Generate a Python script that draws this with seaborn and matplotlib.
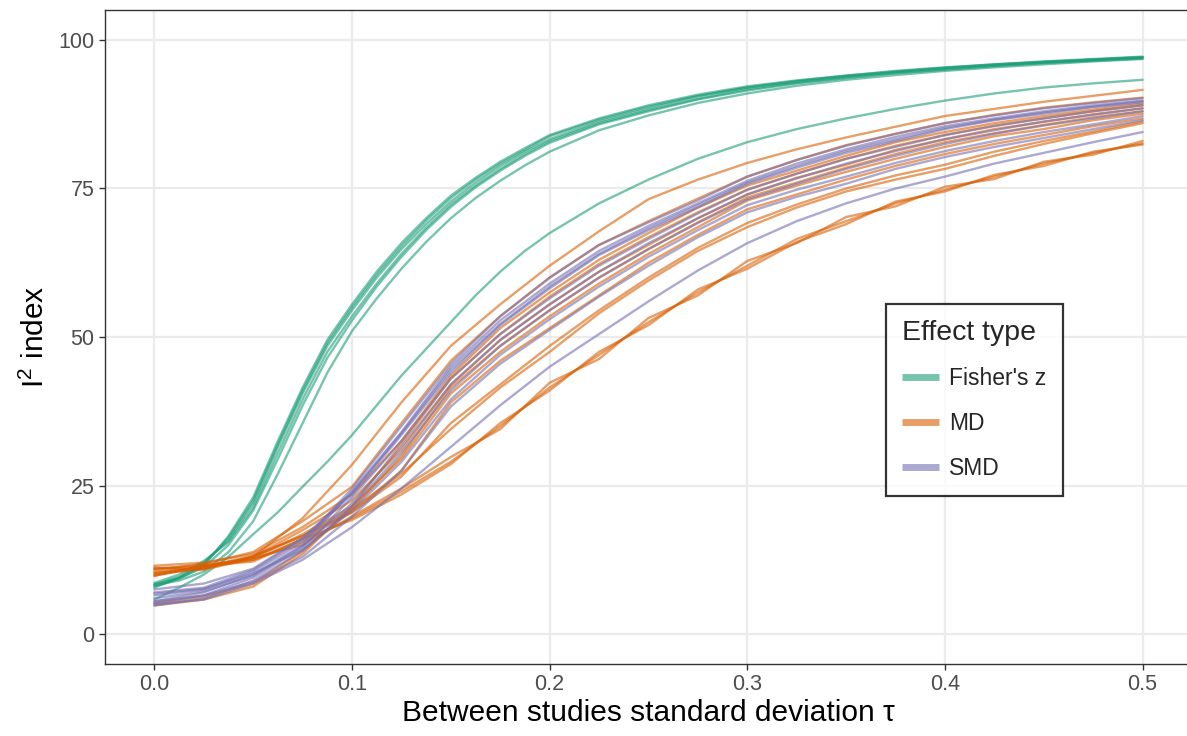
import numpy as np
import pandas as pd
import matplotlib
matplotlib.use("Agg")
import matplotlib.pyplot as plt
import seaborn as sns
from matplotlib.lines import Line2D

# ---------------- data ----------------
tau_fisher = [0.0, 0.0125, 0.025, 0.0375, 0.05, 0.0625, 0.075, 0.0875, 0.1, 0.1125,
              0.125, 0.1375, 0.15, 0.1625, 0.175, 0.1875, 0.2, 0.225, 0.25, 0.275,
              0.3, 0.325, 0.35, 0.375, 0.4, 0.425, 0.45, 0.475, 0.5]

tau = [0.0, 0.025, 0.05, 0.075, 0.1, 0.125, 0.15, 0.175, 0.2, 0.225, 0.25,
       0.275, 0.3, 0.325, 0.35, 0.375, 0.4, 0.425, 0.45, 0.475, 0.5]

fisher_curves = [
    [8.3, 9.6, 12.0, 15.8, 22.0, 31.5, 40.5, 48.5, 54.5, 60.0, 64.8, 69.0, 72.8, 76.0, 78.8, 81.2, 83.3, 86.3, 88.5, 90.5, 92.0, 93.0, 93.9, 94.6, 95.3, 95.8, 96.3, 96.7, 97.1],
    [8.0, 9.3, 11.5, 16.5, 23.0, 32.5, 41.5, 49.5, 55.5, 61.0, 65.8, 70.0, 73.8, 76.8, 79.5, 81.8, 84.0, 86.8, 89.0, 90.8, 92.2, 93.2, 94.0, 94.8, 95.4, 95.9, 96.4, 96.8, 97.2],
    [8.6, 10.0, 12.3, 15.5, 21.3, 30.5, 39.5, 47.5, 53.5, 59.0, 64.0, 68.4, 72.3, 75.5, 78.3, 80.8, 83.0, 86.0, 88.2, 90.1, 91.7, 92.8, 93.7, 94.5, 95.1, 95.7, 96.2, 96.6, 97.0],
    [7.8, 9.5, 11.8, 16.2, 22.5, 32.0, 41.0, 49.0, 55.0, 60.5, 65.3, 69.6, 73.4, 76.5, 79.2, 81.5, 83.8, 86.6, 88.8, 90.6, 92.0, 93.1, 94.0, 94.7, 95.3, 95.9, 96.3, 96.7, 97.1],
    [8.4, 9.4, 11.2, 15.0, 20.8, 29.5, 38.5, 46.5, 52.8, 58.5, 63.5, 68.0, 71.9, 75.2, 78.0, 80.5, 82.7, 85.8, 88.0, 90.0, 91.5, 92.7, 93.6, 94.4, 95.0, 95.6, 96.1, 96.5, 96.9],
    [8.2, 9.0, 10.5, 13.8, 19.0, 27.0, 35.5, 44.0, 51.0, 56.5, 61.5, 66.0, 70.0, 73.4, 76.3, 78.9, 81.2, 84.8, 87.3, 89.4, 91.0, 92.3, 93.3, 94.1, 94.8, 95.4, 95.9, 96.4, 96.8],
    [5.8, 7.8, 10.0, 13.0, 16.8, 20.5, 24.8, 29.0, 33.5, 38.5, 43.5, 48.0, 52.5, 57.0, 61.0, 64.5, 67.5, 72.5, 76.5, 80.0, 82.8, 85.0, 86.8, 88.4, 89.8, 91.0, 92.0, 92.7, 93.3],
]

md_curves = [
    [10.0, 11.0, 13.0, 19.5, 28.5, 39.0, 48.5, 55.5, 62.0, 67.8, 73.2, 76.5, 79.3, 81.6, 83.6, 85.4, 87.2, 88.4, 89.6, 90.6, 91.6],
    [10.5, 11.2, 12.5, 15.5, 19.5, 24.0, 29.0, 35.0, 41.5, 47.0, 52.5, 57.5, 62.0, 66.5, 69.5, 72.5, 74.8, 77.0, 79.2, 81.0, 82.6],
    [11.2, 10.8, 12.8, 15.0, 19.8, 24.5, 29.8, 34.5, 42.3, 46.3, 53.2, 57.0, 62.8, 65.8, 70.2, 72.0, 75.3, 76.6, 79.5, 80.7, 83.0],
    [9.8, 11.5, 12.2, 16.0, 19.2, 23.5, 28.6, 35.5, 41.0, 47.5, 52.0, 58.0, 61.5, 66.0, 69.0, 72.8, 74.5, 77.3, 78.8, 81.2, 82.4],
    [10.2, 11.0, 13.0, 16.5, 21.0, 27.0, 34.5, 41.5, 47.5, 54.0, 59.5, 64.5, 68.5, 71.8, 74.5, 76.5, 78.3, 80.5, 82.5, 84.3, 86.0],
    [11.0, 11.6, 12.5, 16.0, 20.5, 26.5, 35.5, 42.0, 48.5, 54.5, 60.0, 65.0, 69.2, 72.3, 75.0, 77.2, 79.0, 81.2, 83.0, 84.6, 86.3],
    [10.8, 11.8, 13.8, 19.0, 24.8, 35.5, 46.0, 53.5, 60.0, 65.5, 69.5, 73.3, 77.0, 79.8, 82.3, 84.2, 86.0, 87.4, 88.6, 89.5, 90.3],
    [11.5, 12.0, 13.5, 18.0, 23.5, 32.5, 43.5, 51.5, 57.5, 63.0, 67.5, 71.8, 75.5, 78.0, 80.5, 82.8, 84.5, 86.0, 87.2, 88.3, 89.3],
    [10.3, 11.2, 13.0, 17.5, 22.5, 31.0, 42.0, 49.5, 55.5, 61.0, 65.5, 70.0, 74.0, 76.8, 79.0, 81.5, 83.3, 85.0, 86.2, 87.5, 88.5],
    [9.8, 11.5, 12.8, 16.8, 21.5, 29.5, 40.5, 47.5, 53.5, 59.0, 64.0, 68.5, 73.0, 75.5, 77.8, 80.0, 82.0, 83.8, 85.0, 86.5, 87.6],
    [11.0, 11.3, 13.2, 16.5, 20.5, 27.5, 39.0, 46.0, 51.5, 57.0, 62.5, 67.2, 71.5, 74.0, 76.5, 78.8, 80.8, 82.5, 84.0, 85.5, 86.8],
    [4.8, 5.8, 8.0, 13.5, 21.5, 32.0, 43.0, 50.5, 56.8, 62.3, 66.8, 71.0, 74.8, 77.5, 80.0, 82.2, 84.0, 85.6, 86.8, 88.0, 89.0],
    [5.2, 6.3, 8.5, 14.0, 21.0, 30.0, 41.5, 48.5, 54.5, 60.0, 64.8, 69.3, 73.5, 76.0, 78.5, 80.8, 82.8, 84.3, 85.7, 87.0, 88.0],
]

smd_curves = [
    [5.0, 5.8, 8.5, 12.5, 18.0, 24.5, 31.5, 38.5, 45.0, 50.5, 56.0, 61.2, 65.8, 69.5, 72.5, 75.0, 77.0, 79.2, 81.0, 82.8, 84.5],
    [6.5, 7.5, 10.5, 15.5, 24.5, 35.0, 45.5, 53.5, 60.0, 65.5, 69.3, 73.0, 77.0, 79.8, 82.2, 84.2, 86.0, 87.3, 88.5, 89.4, 90.2],
    [5.5, 7.0, 10.0, 15.0, 24.0, 34.0, 45.0, 52.8, 59.0, 64.5, 68.7, 72.5, 76.3, 79.2, 81.6, 83.7, 85.5, 86.8, 88.0, 89.0, 89.8],
    [7.0, 7.8, 10.8, 16.0, 23.5, 33.5, 44.0, 52.0, 58.2, 63.8, 68.0, 71.8, 75.8, 78.5, 81.0, 83.0, 85.0, 86.5, 87.6, 88.7, 89.5],
    [5.2, 6.5, 9.5, 14.5, 23.0, 32.5, 43.0, 50.5, 56.5, 62.0, 66.5, 70.8, 74.8, 77.5, 80.0, 82.0, 84.0, 85.5, 86.8, 88.0, 89.0],
    [6.0, 7.2, 9.8, 14.8, 22.0, 31.5, 42.0, 49.5, 55.5, 61.0, 65.8, 70.0, 74.0, 76.7, 79.2, 81.3, 83.3, 84.8, 86.3, 87.4, 88.5],
    [4.8, 6.0, 9.0, 14.0, 21.5, 30.5, 41.0, 48.5, 54.5, 60.0, 64.8, 69.2, 73.2, 75.8, 78.3, 80.5, 82.5, 84.2, 85.6, 86.8, 88.0],
    [6.8, 7.6, 10.2, 14.2, 20.8, 29.0, 39.5, 47.0, 53.0, 58.5, 63.5, 68.0, 72.2, 74.8, 77.0, 79.3, 81.3, 83.0, 84.5, 85.8, 87.2],
    [5.5, 6.5, 8.8, 13.0, 19.8, 27.5, 38.3, 45.5, 51.2, 56.8, 62.0, 66.8, 71.0, 73.6, 75.8, 78.3, 80.3, 82.0, 83.5, 85.0, 86.5],
    [7.5, 8.5, 11.0, 16.2, 23.8, 33.8, 44.5, 52.2, 58.5, 64.0, 68.3, 72.2, 76.0, 78.8, 81.3, 83.3, 85.2, 86.6, 87.8, 88.8, 89.7],
]

effect_types = ["Fisher's z", "MD", "SMD"]
colors = ["#1B9E77", "#D95F02", "#7570B3"]
x_ticks = [0.0, 0.1, 0.2, 0.3, 0.4, 0.5]
x_ticklabels = ["0.0", "0.1", "0.2", "0.3", "0.4", "0.5"]
y_ticks = [0, 25, 50, 75, 100]

# ---------------- long table ----------------
rows = []
cid = 0
groups = [(effect_types[0], tau_fisher, fisher_curves),
          (effect_types[1], tau, md_curves),
          (effect_types[2], tau, smd_curves)]
for eff, tt, curves in groups:
    for c in curves:
        for t, v in zip(tt, c):
            rows.append({"tau": t, "I2": v, "effect": eff, "curve": cid})
        cid += 1
df = pd.DataFrame(rows)

# ---------------- plot ----------------
sns.set_theme(style="white")
plt.rcParams["font.family"] = ["Liberation Sans", "DejaVu Sans"]
plt.rcParams["mathtext.fontset"] = "custom"
plt.rcParams["mathtext.rm"] = "Liberation Sans"

W, H = 1187, 736
fig = plt.figure(figsize=(W / 100, H / 100), dpi=100)
ax = fig.add_axes([105 / W, (H - 663.7) / H, (1192 - 105) / W, (663.7 - 10.3) / H])

palette = dict(zip(effect_types, colors))
sns.lineplot(data=df, x="tau", y="I2", hue="effect", units="curve",
             estimator=None, palette=palette, hue_order=effect_types,
             alpha=0.6, linewidth=1.7, ax=ax, legend=False, sort=False)

ax.set_xlim(-0.025, 0.525)
ax.set_ylim(-5, 105)
ax.set_xticks(x_ticks)
ax.set_xticklabels(x_ticklabels)
ax.set_yticks(y_ticks)
ax.grid(True, color="#EBEBEB", linewidth=1.6)
ax.set_axisbelow(True)
for s in ax.spines.values():
    s.set_color("#333333")
    s.set_linewidth(1.0)
ax.tick_params(axis="both", which="major", length=4.5, width=1.0, color="#333333",
               labelcolor="#4D4D4D", labelsize=15.5, direction="out", pad=3,
               bottom=True, left=True)

ax.set_xlabel("Between studies standard deviation \u03c4", fontsize=21.5,
              color="black", labelpad=3)
ax.set_ylabel(r"I$^\mathregular{2}$ index", fontsize=21.5, color="black", labelpad=6)

handles = [Line2D([0], [0], color=c, lw=5, alpha=0.6, solid_capstyle="butt")
           for c in colors]
leg = ax.legend(handles, effect_types, title="Effect type", loc="center",
                bbox_to_anchor=(0.80, 0.404), frameon=True, fancybox=False,
                fontsize=16.5, title_fontsize=20.5, handlelength=1.6,
                handletextpad=0.45, labelspacing=0.95, borderpad=0.7,
                borderaxespad=0)
leg.get_frame().set_edgecolor("black")
leg.get_frame().set_linewidth(1.6)
leg._legend_box.align = "left"

fig.savefig("out.png", dpi=100)
